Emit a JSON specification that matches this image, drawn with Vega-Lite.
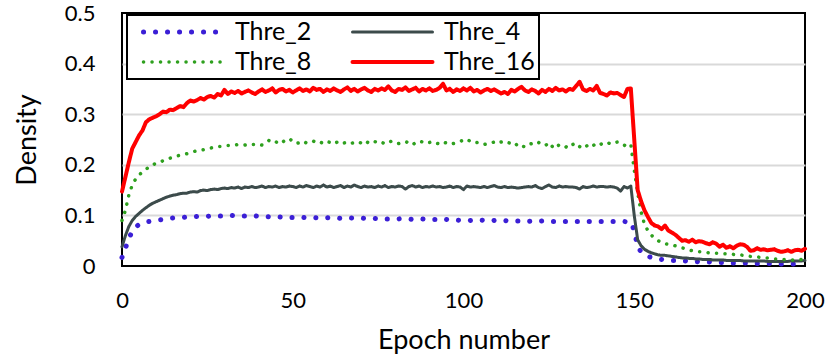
{
"$schema": "https://vega.github.io/schema/vega-lite/v6.json",
"width": 683, "height": 253,
"autosize": {"type": "none"},
"padding": {"left": 122, "top": 13, "right": 25, "bottom": 93},
"background": "white",
"view": {"stroke": "black", "strokeWidth": 2},
"config": {"font": "Lato", "view": {"stroke": "black", "strokeWidth": 2}},
"data": {"values": [
{"e":0,"Thre_2":0.017,"Thre_4":0.038,"Thre_8":0.090,"Thre_16":0.147},
{"e":1,"Thre_2":0.035,"Thre_4":0.060,"Thre_8":0.110,"Thre_16":0.176},
{"e":2,"Thre_2":0.055,"Thre_4":0.078,"Thre_8":0.140,"Thre_16":0.205},
{"e":3,"Thre_2":0.068,"Thre_4":0.090,"Thre_8":0.160,"Thre_16":0.232},
{"e":4,"Thre_2":0.077,"Thre_4":0.098,"Thre_8":0.172,"Thre_16":0.245},
{"e":5,"Thre_2":0.082,"Thre_4":0.104,"Thre_8":0.180,"Thre_16":0.258},
{"e":6,"Thre_2":0.085,"Thre_4":0.110,"Thre_8":0.186,"Thre_16":0.268},
{"e":7,"Thre_2":0.087,"Thre_4":0.115,"Thre_8":0.191,"Thre_16":0.284},
{"e":8,"Thre_2":0.088,"Thre_4":0.120,"Thre_8":0.196,"Thre_16":0.290},
{"e":9,"Thre_2":0.089,"Thre_4":0.124,"Thre_8":0.200,"Thre_16":0.293},
{"e":10,"Thre_2":0.090,"Thre_4":0.127,"Thre_8":0.203,"Thre_16":0.296},
{"e":11,"Thre_2":0.091,"Thre_4":0.130,"Thre_8":0.205,"Thre_16":0.300},
{"e":12,"Thre_2":0.092,"Thre_4":0.133,"Thre_8":0.208,"Thre_16":0.305},
{"e":13,"Thre_2":0.093,"Thre_4":0.136,"Thre_8":0.211,"Thre_16":0.304},
{"e":14,"Thre_2":0.094,"Thre_4":0.138,"Thre_8":0.213,"Thre_16":0.309},
{"e":15,"Thre_2":0.095,"Thre_4":0.140,"Thre_8":0.215,"Thre_16":0.308},
{"e":16,"Thre_2":0.095,"Thre_4":0.141,"Thre_8":0.217,"Thre_16":0.312},
{"e":17,"Thre_2":0.096,"Thre_4":0.143,"Thre_8":0.219,"Thre_16":0.316},
{"e":18,"Thre_2":0.096,"Thre_4":0.144,"Thre_8":0.220,"Thre_16":0.314},
{"e":19,"Thre_2":0.097,"Thre_4":0.144,"Thre_8":0.222,"Thre_16":0.322},
{"e":20,"Thre_2":0.097,"Thre_4":0.146,"Thre_8":0.224,"Thre_16":0.327},
{"e":21,"Thre_2":0.097,"Thre_4":0.147,"Thre_8":0.226,"Thre_16":0.325},
{"e":22,"Thre_2":0.098,"Thre_4":0.146,"Thre_8":0.228,"Thre_16":0.328},
{"e":23,"Thre_2":0.098,"Thre_4":0.149,"Thre_8":0.229,"Thre_16":0.332},
{"e":24,"Thre_2":0.098,"Thre_4":0.150,"Thre_8":0.230,"Thre_16":0.329},
{"e":25,"Thre_2":0.098,"Thre_4":0.149,"Thre_8":0.232,"Thre_16":0.334},
{"e":26,"Thre_2":0.099,"Thre_4":0.151,"Thre_8":0.233,"Thre_16":0.336},
{"e":27,"Thre_2":0.099,"Thre_4":0.152,"Thre_8":0.235,"Thre_16":0.333},
{"e":28,"Thre_2":0.099,"Thre_4":0.151,"Thre_8":0.236,"Thre_16":0.340},
{"e":29,"Thre_2":0.099,"Thre_4":0.153,"Thre_8":0.236,"Thre_16":0.337},
{"e":30,"Thre_2":0.099,"Thre_4":0.154,"Thre_8":0.237,"Thre_16":0.348},
{"e":31,"Thre_2":0.099,"Thre_4":0.153,"Thre_8":0.238,"Thre_16":0.340},
{"e":32,"Thre_2":0.100,"Thre_4":0.155,"Thre_8":0.238,"Thre_16":0.345},
{"e":33,"Thre_2":0.099,"Thre_4":0.154,"Thre_8":0.239,"Thre_16":0.342},
{"e":34,"Thre_2":0.099,"Thre_4":0.156,"Thre_8":0.240,"Thre_16":0.346},
{"e":35,"Thre_2":0.099,"Thre_4":0.153,"Thre_8":0.240,"Thre_16":0.341},
{"e":36,"Thre_2":0.099,"Thre_4":0.156,"Thre_8":0.239,"Thre_16":0.344},
{"e":37,"Thre_2":0.098,"Thre_4":0.155,"Thre_8":0.241,"Thre_16":0.347},
{"e":38,"Thre_2":0.098,"Thre_4":0.157,"Thre_8":0.240,"Thre_16":0.343},
{"e":39,"Thre_2":0.099,"Thre_4":0.155,"Thre_8":0.240,"Thre_16":0.340},
{"e":40,"Thre_2":0.098,"Thre_4":0.156,"Thre_8":0.241,"Thre_16":0.345},
{"e":41,"Thre_2":0.098,"Thre_4":0.158,"Thre_8":0.239,"Thre_16":0.349},
{"e":42,"Thre_2":0.098,"Thre_4":0.155,"Thre_8":0.243,"Thre_16":0.344},
{"e":43,"Thre_2":0.097,"Thre_4":0.157,"Thre_8":0.248,"Thre_16":0.347},
{"e":44,"Thre_2":0.098,"Thre_4":0.156,"Thre_8":0.244,"Thre_16":0.351},
{"e":45,"Thre_2":0.097,"Thre_4":0.158,"Thre_8":0.246,"Thre_16":0.343},
{"e":46,"Thre_2":0.097,"Thre_4":0.155,"Thre_8":0.241,"Thre_16":0.348},
{"e":47,"Thre_2":0.096,"Thre_4":0.157,"Thre_8":0.245,"Thre_16":0.350},
{"e":48,"Thre_2":0.097,"Thre_4":0.156,"Thre_8":0.249,"Thre_16":0.345},
{"e":49,"Thre_2":0.096,"Thre_4":0.158,"Thre_8":0.252,"Thre_16":0.348},
{"e":50,"Thre_2":0.096,"Thre_4":0.157,"Thre_8":0.246,"Thre_16":0.343},
{"e":51,"Thre_2":0.097,"Thre_4":0.155,"Thre_8":0.242,"Thre_16":0.347},
{"e":52,"Thre_2":0.096,"Thre_4":0.158,"Thre_8":0.244,"Thre_16":0.351},
{"e":53,"Thre_2":0.096,"Thre_4":0.156,"Thre_8":0.247,"Thre_16":0.346},
{"e":54,"Thre_2":0.095,"Thre_4":0.159,"Thre_8":0.243,"Thre_16":0.349},
{"e":55,"Thre_2":0.096,"Thre_4":0.157,"Thre_8":0.246,"Thre_16":0.345},
{"e":56,"Thre_2":0.096,"Thre_4":0.155,"Thre_8":0.247,"Thre_16":0.352},
{"e":57,"Thre_2":0.095,"Thre_4":0.158,"Thre_8":0.243,"Thre_16":0.348},
{"e":58,"Thre_2":0.096,"Thre_4":0.156,"Thre_8":0.245,"Thre_16":0.350},
{"e":59,"Thre_2":0.095,"Thre_4":0.160,"Thre_8":0.242,"Thre_16":0.344},
{"e":60,"Thre_2":0.095,"Thre_4":0.156,"Thre_8":0.246,"Thre_16":0.349},
{"e":61,"Thre_2":0.096,"Thre_4":0.158,"Thre_8":0.244,"Thre_16":0.346},
{"e":62,"Thre_2":0.095,"Thre_4":0.155,"Thre_8":0.241,"Thre_16":0.351},
{"e":63,"Thre_2":0.095,"Thre_4":0.157,"Thre_8":0.245,"Thre_16":0.347},
{"e":64,"Thre_2":0.094,"Thre_4":0.159,"Thre_8":0.247,"Thre_16":0.344},
{"e":65,"Thre_2":0.095,"Thre_4":0.155,"Thre_8":0.243,"Thre_16":0.349},
{"e":66,"Thre_2":0.094,"Thre_4":0.158,"Thre_8":0.245,"Thre_16":0.353},
{"e":67,"Thre_2":0.095,"Thre_4":0.156,"Thre_8":0.242,"Thre_16":0.346},
{"e":68,"Thre_2":0.094,"Thre_4":0.160,"Thre_8":0.244,"Thre_16":0.350},
{"e":69,"Thre_2":0.094,"Thre_4":0.157,"Thre_8":0.246,"Thre_16":0.345},
{"e":70,"Thre_2":0.095,"Thre_4":0.155,"Thre_8":0.243,"Thre_16":0.349},
{"e":71,"Thre_2":0.094,"Thre_4":0.158,"Thre_8":0.248,"Thre_16":0.352},
{"e":72,"Thre_2":0.094,"Thre_4":0.156,"Thre_8":0.244,"Thre_16":0.347},
{"e":73,"Thre_2":0.093,"Thre_4":0.157,"Thre_8":0.242,"Thre_16":0.344},
{"e":74,"Thre_2":0.094,"Thre_4":0.155,"Thre_8":0.246,"Thre_16":0.350},
{"e":75,"Thre_2":0.093,"Thre_4":0.158,"Thre_8":0.243,"Thre_16":0.347},
{"e":76,"Thre_2":0.094,"Thre_4":0.156,"Thre_8":0.245,"Thre_16":0.351},
{"e":77,"Thre_2":0.093,"Thre_4":0.159,"Thre_8":0.241,"Thre_16":0.348},
{"e":78,"Thre_2":0.093,"Thre_4":0.155,"Thre_8":0.244,"Thre_16":0.355},
{"e":79,"Thre_2":0.094,"Thre_4":0.157,"Thre_8":0.247,"Thre_16":0.347},
{"e":80,"Thre_2":0.093,"Thre_4":0.156,"Thre_8":0.245,"Thre_16":0.344},
{"e":81,"Thre_2":0.093,"Thre_4":0.158,"Thre_8":0.242,"Thre_16":0.350},
{"e":82,"Thre_2":0.094,"Thre_4":0.157,"Thre_8":0.244,"Thre_16":0.348},
{"e":83,"Thre_2":0.093,"Thre_4":0.152,"Thre_8":0.246,"Thre_16":0.353},
{"e":84,"Thre_2":0.093,"Thre_4":0.157,"Thre_8":0.243,"Thre_16":0.346},
{"e":85,"Thre_2":0.092,"Thre_4":0.159,"Thre_8":0.239,"Thre_16":0.349},
{"e":86,"Thre_2":0.093,"Thre_4":0.156,"Thre_8":0.244,"Thre_16":0.352},
{"e":87,"Thre_2":0.092,"Thre_4":0.158,"Thre_8":0.247,"Thre_16":0.345},
{"e":88,"Thre_2":0.093,"Thre_4":0.155,"Thre_8":0.245,"Thre_16":0.350},
{"e":89,"Thre_2":0.092,"Thre_4":0.157,"Thre_8":0.242,"Thre_16":0.347},
{"e":90,"Thre_2":0.091,"Thre_4":0.156,"Thre_8":0.244,"Thre_16":0.351},
{"e":91,"Thre_2":0.092,"Thre_4":0.158,"Thre_8":0.246,"Thre_16":0.346},
{"e":92,"Thre_2":0.092,"Thre_4":0.156,"Thre_8":0.243,"Thre_16":0.348},
{"e":93,"Thre_2":0.091,"Thre_4":0.157,"Thre_8":0.241,"Thre_16":0.352},
{"e":94,"Thre_2":0.093,"Thre_4":0.155,"Thre_8":0.245,"Thre_16":0.360},
{"e":95,"Thre_2":0.092,"Thre_4":0.156,"Thre_8":0.243,"Thre_16":0.347},
{"e":96,"Thre_2":0.091,"Thre_4":0.158,"Thre_8":0.240,"Thre_16":0.350},
{"e":97,"Thre_2":0.092,"Thre_4":0.155,"Thre_8":0.242,"Thre_16":0.344},
{"e":98,"Thre_2":0.091,"Thre_4":0.157,"Thre_8":0.244,"Thre_16":0.349},
{"e":99,"Thre_2":0.090,"Thre_4":0.156,"Thre_8":0.246,"Thre_16":0.346},
{"e":100,"Thre_2":0.091,"Thre_4":0.151,"Thre_8":0.249,"Thre_16":0.351},
{"e":101,"Thre_2":0.091,"Thre_4":0.158,"Thre_8":0.251,"Thre_16":0.347},
{"e":102,"Thre_2":0.090,"Thre_4":0.156,"Thre_8":0.246,"Thre_16":0.352},
{"e":103,"Thre_2":0.091,"Thre_4":0.157,"Thre_8":0.243,"Thre_16":0.345},
{"e":104,"Thre_2":0.092,"Thre_4":0.156,"Thre_8":0.244,"Thre_16":0.348},
{"e":105,"Thre_2":0.091,"Thre_4":0.155,"Thre_8":0.241,"Thre_16":0.343},
{"e":106,"Thre_2":0.090,"Thre_4":0.157,"Thre_8":0.240,"Thre_16":0.347},
{"e":107,"Thre_2":0.091,"Thre_4":0.155,"Thre_8":0.242,"Thre_16":0.350},
{"e":108,"Thre_2":0.089,"Thre_4":0.157,"Thre_8":0.243,"Thre_16":0.346},
{"e":109,"Thre_2":0.090,"Thre_4":0.159,"Thre_8":0.245,"Thre_16":0.349},
{"e":110,"Thre_2":0.090,"Thre_4":0.156,"Thre_8":0.242,"Thre_16":0.345},
{"e":111,"Thre_2":0.089,"Thre_4":0.155,"Thre_8":0.245,"Thre_16":0.341},
{"e":112,"Thre_2":0.090,"Thre_4":0.157,"Thre_8":0.247,"Thre_16":0.344},
{"e":113,"Thre_2":0.089,"Thre_4":0.155,"Thre_8":0.244,"Thre_16":0.340},
{"e":114,"Thre_2":0.090,"Thre_4":0.156,"Thre_8":0.242,"Thre_16":0.348},
{"e":115,"Thre_2":0.089,"Thre_4":0.155,"Thre_8":0.244,"Thre_16":0.345},
{"e":116,"Thre_2":0.089,"Thre_4":0.154,"Thre_8":0.236,"Thre_16":0.350},
{"e":117,"Thre_2":0.090,"Thre_4":0.155,"Thre_8":0.238,"Thre_16":0.354},
{"e":118,"Thre_2":0.089,"Thre_4":0.156,"Thre_8":0.235,"Thre_16":0.347},
{"e":119,"Thre_2":0.088,"Thre_4":0.157,"Thre_8":0.240,"Thre_16":0.344},
{"e":120,"Thre_2":0.089,"Thre_4":0.156,"Thre_8":0.242,"Thre_16":0.349},
{"e":121,"Thre_2":0.089,"Thre_4":0.159,"Thre_8":0.240,"Thre_16":0.346},
{"e":122,"Thre_2":0.088,"Thre_4":0.155,"Thre_8":0.244,"Thre_16":0.341},
{"e":123,"Thre_2":0.089,"Thre_4":0.153,"Thre_8":0.240,"Thre_16":0.348},
{"e":124,"Thre_2":0.088,"Thre_4":0.157,"Thre_8":0.238,"Thre_16":0.344},
{"e":125,"Thre_2":0.089,"Thre_4":0.160,"Thre_8":0.244,"Thre_16":0.350},
{"e":126,"Thre_2":0.088,"Thre_4":0.156,"Thre_8":0.236,"Thre_16":0.346},
{"e":127,"Thre_2":0.088,"Thre_4":0.155,"Thre_8":0.232,"Thre_16":0.352},
{"e":128,"Thre_2":0.089,"Thre_4":0.158,"Thre_8":0.240,"Thre_16":0.347},
{"e":129,"Thre_2":0.088,"Thre_4":0.156,"Thre_8":0.237,"Thre_16":0.349},
{"e":130,"Thre_2":0.088,"Thre_4":0.157,"Thre_8":0.235,"Thre_16":0.345},
{"e":131,"Thre_2":0.088,"Thre_4":0.156,"Thre_8":0.242,"Thre_16":0.350},
{"e":132,"Thre_2":0.089,"Thre_4":0.156,"Thre_8":0.240,"Thre_16":0.348},
{"e":133,"Thre_2":0.088,"Thre_4":0.155,"Thre_8":0.243,"Thre_16":0.356},
{"e":134,"Thre_2":0.088,"Thre_4":0.152,"Thre_8":0.236,"Thre_16":0.364},
{"e":135,"Thre_2":0.087,"Thre_4":0.157,"Thre_8":0.232,"Thre_16":0.349},
{"e":136,"Thre_2":0.088,"Thre_4":0.155,"Thre_8":0.237,"Thre_16":0.346},
{"e":137,"Thre_2":0.088,"Thre_4":0.156,"Thre_8":0.242,"Thre_16":0.350},
{"e":138,"Thre_2":0.087,"Thre_4":0.158,"Thre_8":0.238,"Thre_16":0.347},
{"e":139,"Thre_2":0.088,"Thre_4":0.156,"Thre_8":0.243,"Thre_16":0.356},
{"e":140,"Thre_2":0.088,"Thre_4":0.157,"Thre_8":0.240,"Thre_16":0.342},
{"e":141,"Thre_2":0.088,"Thre_4":0.157,"Thre_8":0.243,"Thre_16":0.340},
{"e":142,"Thre_2":0.087,"Thre_4":0.156,"Thre_8":0.245,"Thre_16":0.337},
{"e":143,"Thre_2":0.088,"Thre_4":0.157,"Thre_8":0.241,"Thre_16":0.343},
{"e":144,"Thre_2":0.088,"Thre_4":0.156,"Thre_8":0.243,"Thre_16":0.341},
{"e":145,"Thre_2":0.087,"Thre_4":0.154,"Thre_8":0.245,"Thre_16":0.342},
{"e":146,"Thre_2":0.088,"Thre_4":0.148,"Thre_8":0.244,"Thre_16":0.338},
{"e":147,"Thre_2":0.088,"Thre_4":0.157,"Thre_8":0.239,"Thre_16":0.334},
{"e":148,"Thre_2":0.087,"Thre_4":0.154,"Thre_8":0.236,"Thre_16":0.350},
{"e":149,"Thre_2":0.087,"Thre_4":0.158,"Thre_8":0.240,"Thre_16":0.351},
{"e":150,"Thre_2":0.070,"Thre_4":0.100,"Thre_8":0.190,"Thre_16":0.250},
{"e":151,"Thre_2":0.038,"Thre_4":0.052,"Thre_8":0.145,"Thre_16":0.150},
{"e":152,"Thre_2":0.028,"Thre_4":0.040,"Thre_8":0.107,"Thre_16":0.128},
{"e":153,"Thre_2":0.023,"Thre_4":0.033,"Thre_8":0.082,"Thre_16":0.110},
{"e":154,"Thre_2":0.019,"Thre_4":0.029,"Thre_8":0.070,"Thre_16":0.097},
{"e":155,"Thre_2":0.017,"Thre_4":0.026,"Thre_8":0.061,"Thre_16":0.085},
{"e":156,"Thre_2":0.015,"Thre_4":0.024,"Thre_8":0.055,"Thre_16":0.080},
{"e":157,"Thre_2":0.014,"Thre_4":0.022,"Thre_8":0.050,"Thre_16":0.078},
{"e":158,"Thre_2":0.013,"Thre_4":0.021,"Thre_8":0.046,"Thre_16":0.073},
{"e":159,"Thre_2":0.012,"Thre_4":0.021,"Thre_8":0.044,"Thre_16":0.080},
{"e":160,"Thre_2":0.012,"Thre_4":0.020,"Thre_8":0.043,"Thre_16":0.070},
{"e":161,"Thre_2":0.011,"Thre_4":0.019,"Thre_8":0.042,"Thre_16":0.066},
{"e":162,"Thre_2":0.011,"Thre_4":0.018,"Thre_8":0.040,"Thre_16":0.062},
{"e":163,"Thre_2":0.010,"Thre_4":0.017,"Thre_8":0.038,"Thre_16":0.056},
{"e":164,"Thre_2":0.010,"Thre_4":0.016,"Thre_8":0.036,"Thre_16":0.050},
{"e":165,"Thre_2":0.010,"Thre_4":0.016,"Thre_8":0.034,"Thre_16":0.051},
{"e":166,"Thre_2":0.009,"Thre_4":0.015,"Thre_8":0.032,"Thre_16":0.048},
{"e":167,"Thre_2":0.009,"Thre_4":0.015,"Thre_8":0.030,"Thre_16":0.052},
{"e":168,"Thre_2":0.009,"Thre_4":0.014,"Thre_8":0.029,"Thre_16":0.047},
{"e":169,"Thre_2":0.008,"Thre_4":0.014,"Thre_8":0.028,"Thre_16":0.049},
{"e":170,"Thre_2":0.008,"Thre_4":0.013,"Thre_8":0.028,"Thre_16":0.048},
{"e":171,"Thre_2":0.008,"Thre_4":0.013,"Thre_8":0.027,"Thre_16":0.045},
{"e":172,"Thre_2":0.008,"Thre_4":0.013,"Thre_8":0.026,"Thre_16":0.043},
{"e":173,"Thre_2":0.007,"Thre_4":0.012,"Thre_8":0.026,"Thre_16":0.047},
{"e":174,"Thre_2":0.007,"Thre_4":0.012,"Thre_8":0.025,"Thre_16":0.044},
{"e":175,"Thre_2":0.007,"Thre_4":0.012,"Thre_8":0.025,"Thre_16":0.038},
{"e":176,"Thre_2":0.007,"Thre_4":0.012,"Thre_8":0.024,"Thre_16":0.042},
{"e":177,"Thre_2":0.007,"Thre_4":0.011,"Thre_8":0.024,"Thre_16":0.036},
{"e":178,"Thre_2":0.006,"Thre_4":0.011,"Thre_8":0.023,"Thre_16":0.039},
{"e":179,"Thre_2":0.006,"Thre_4":0.011,"Thre_8":0.023,"Thre_16":0.035},
{"e":180,"Thre_2":0.006,"Thre_4":0.011,"Thre_8":0.022,"Thre_16":0.040},
{"e":181,"Thre_2":0.006,"Thre_4":0.011,"Thre_8":0.022,"Thre_16":0.043},
{"e":182,"Thre_2":0.006,"Thre_4":0.010,"Thre_8":0.021,"Thre_16":0.042},
{"e":183,"Thre_2":0.006,"Thre_4":0.010,"Thre_8":0.020,"Thre_16":0.038},
{"e":184,"Thre_2":0.005,"Thre_4":0.010,"Thre_8":0.019,"Thre_16":0.030},
{"e":185,"Thre_2":0.005,"Thre_4":0.010,"Thre_8":0.019,"Thre_16":0.031},
{"e":186,"Thre_2":0.005,"Thre_4":0.010,"Thre_8":0.018,"Thre_16":0.035},
{"e":187,"Thre_2":0.005,"Thre_4":0.010,"Thre_8":0.017,"Thre_16":0.032},
{"e":188,"Thre_2":0.005,"Thre_4":0.010,"Thre_8":0.016,"Thre_16":0.033},
{"e":189,"Thre_2":0.005,"Thre_4":0.009,"Thre_8":0.016,"Thre_16":0.031},
{"e":190,"Thre_2":0.005,"Thre_4":0.009,"Thre_8":0.015,"Thre_16":0.032},
{"e":191,"Thre_2":0.005,"Thre_4":0.009,"Thre_8":0.014,"Thre_16":0.033},
{"e":192,"Thre_2":0.004,"Thre_4":0.009,"Thre_8":0.014,"Thre_16":0.030},
{"e":193,"Thre_2":0.004,"Thre_4":0.009,"Thre_8":0.013,"Thre_16":0.028},
{"e":194,"Thre_2":0.004,"Thre_4":0.009,"Thre_8":0.013,"Thre_16":0.029},
{"e":195,"Thre_2":0.004,"Thre_4":0.009,"Thre_8":0.012,"Thre_16":0.031},
{"e":196,"Thre_2":0.004,"Thre_4":0.010,"Thre_8":0.012,"Thre_16":0.028},
{"e":197,"Thre_2":0.004,"Thre_4":0.010,"Thre_8":0.012,"Thre_16":0.031},
{"e":198,"Thre_2":0.004,"Thre_4":0.010,"Thre_8":0.012,"Thre_16":0.032},
{"e":199,"Thre_2":0.004,"Thre_4":0.010,"Thre_8":0.013,"Thre_16":0.030},
{"e":200,"Thre_2":0.004,"Thre_4":0.011,"Thre_8":0.013,"Thre_16":0.034}
]},
"transform": [{"fold": ["Thre_2", "Thre_4", "Thre_8", "Thre_16"], "as": ["series", "value"]}],
"mark": {"type": "line", "strokeCap": "round", "strokeJoin": "round"},
"encoding": {
  "x": {"field": "e", "type": "quantitative", "scale": {"domain": [0, 200], "nice": false},
        "axis": {"values": [0, 50, 100, 150, 200], "title": "Epoch number", "grid": false, "ticks": false, "domain": false,
                 "labelFontSize": 22, "titleFontSize": 27, "labelPadding": 24, "titlePadding": 16, "labelColor": "black",
                 "titleColor": "black", "titleFontWeight": "normal", "labelFlush": false, "labelFont": "Lato", "titleFont": "Lato"}},
  "y": {"field": "value", "type": "quantitative", "scale": {"domain": [0, 0.5], "nice": false},
        "axis": {"values": [0, 0.1, 0.2, 0.3, 0.4, 0.5], "format": ".1~f", "title": "Density", "grid": true, "gridColor": "#d9d9d9", "gridWidth": 2,
                 "gridOpacity": {"condition": {"test": "datum.value <= 0 || datum.value >= 0.5", "value": 0}, "value": 1},
                 "ticks": false, "domain": false, "labelFontSize": 22, "titleFontSize": 27, "labelPadding": 27, "titlePadding": 23,
                 "labelColor": "black", "titleColor": "black", "titleFontWeight": "normal", "labelFont": "Lato", "titleFont": "Lato"}},
  "color": {"field": "series", "type": "nominal",
            "scale": {"domain": ["Thre_2", "Thre_4", "Thre_8", "Thre_16"], "range": ["#3b1fd6", "#3c4b4b", "#2ea01e", "#ff0000"]},
            "legend": {"title": null, "orient": "none", "legendX": 5, "legendY": 2, "columns": 2, "direction": "horizontal",
                       "symbolType": "stroke", "symbolSize": 6400, "clipHeight": 26, "symbolOffset": 10,
                       "labelFontSize": 25, "labelFont": "Lato", "labelColor": "black", "fillColor": "white",
                       "strokeColor": "black", "padding": 4, "columnPadding": 28, "rowPadding": 4, "labelOffset": 9,
                       "encode": {"symbols": {"update": {"strokeCap": {"value": "round"}}},
                                  "legend": {"update": {"strokeWidth": {"value": 2}}}}}},
  "strokeDash": {"field": "series", "type": "nominal",
                 "scale": {"domain": ["Thre_2", "Thre_4", "Thre_8", "Thre_16"], "range": [[0.1, 11.9], [1, 0], [0.1, 8.4], [1, 0]]}},
  "strokeWidth": {"field": "series", "type": "nominal",
                  "scale": {"type": "ordinal", "domain": ["Thre_2", "Thre_4", "Thre_8", "Thre_16"], "range": [5, 3, 3.5, 4]}}
}
}
